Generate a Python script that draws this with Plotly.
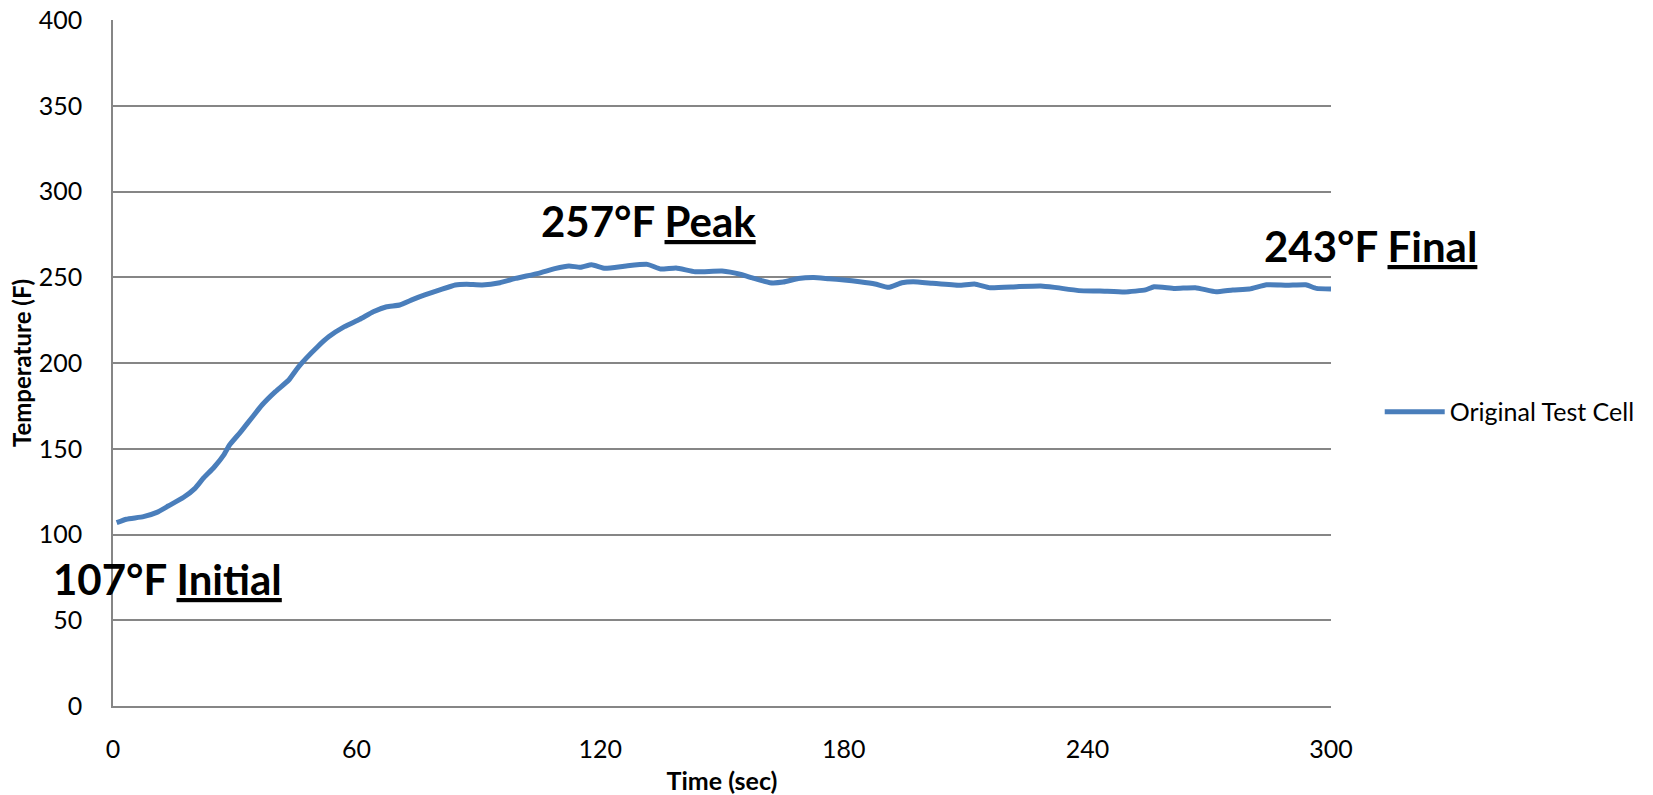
import plotly.graph_objects as go

time_sec = [0.9, 3.3, 7.5, 10.8, 13.6, 17.4, 20.2, 22.1, 24.9, 27.3, 28.7, 31.5, 34.4, 36.7, 40.0, 43.3,
            45.7, 50.4, 53.2, 57.0, 60.8, 64.1, 67.4, 70.6, 73.9, 76.8, 80.5, 84.3, 87.1, 90.9, 95.3,
            99.1, 104.8, 108.8, 112.3, 115.1, 117.9, 121.2, 126.4, 131.6, 134.9, 138.7, 143.4, 150.0,
            154.7, 157.5, 161.8, 165.1, 168.8, 172.6, 176.4, 180.1, 183.9, 187.7, 191.0, 194.3, 197.1,
            201.8, 208.4, 212.2, 216.0, 222.6, 228.5, 231.9, 237.9, 243.1, 249.2, 254.3, 256.4, 261.5,
            266.6, 271.7, 275.8, 279.9, 284.1, 289.2, 293.8, 296.4, 300.0]
temp_f = [106.9, 108.9, 110.4, 112.9, 116.6, 121.7, 126.9, 132.4, 139.2, 146.4, 152.2, 160.0, 168.7, 175.5, 183.3, 190.1,
          197.8, 209.5, 215.4, 221.2, 225.5, 229.9, 232.8, 233.8, 237.1, 239.7, 242.6, 245.5, 245.9, 245.5, 246.8,
          249.3, 252.3, 255.0, 256.6, 255.8, 257.3, 255.2, 256.6, 257.5, 254.8, 255.4, 253.2, 253.6,
          251.6, 249.6, 246.8, 247.2, 249.3, 249.9, 249.1, 248.4, 247.4, 246.1, 244.1, 246.8, 247.4,
          246.5, 245.3, 246.1, 243.9, 244.5, 244.9, 244.1, 242.2, 242.0, 241.4, 242.6, 244.5, 243.5,
          243.9, 241.5, 242.6, 243.1, 245.6, 245.3, 245.6, 243.5, 243.1]

x_ticks = [0, 60, 120, 180, 240, 300]
y_ticks = [0, 50, 100, 150, 200, 250, 300, 350, 400]

# label anchor: x in paper fraction of plot width, y in data units
labels = [
    {"x": 0.4393, "y": 283, "text": "<b>257°F <span style='text-decoration:underline'>Peak</span></b>"},
    {"x": 1.0328, "y": 268, "text": "<b>243°F <span style='text-decoration:underline'>Final</span></b>"},
    {"x": 0.045, "y": 74, "text": "<b>107°F <span style='text-decoration:underline'>Initial</span></b>"},
]

font_family = "Lato, 'Open Sans', sans-serif"
grid_color = "#868686"

fig = go.Figure()
fig.add_trace(go.Scatter(
    x=time_sec, y=temp_f, mode="lines", name="Original Test Cell",
    line=dict(color="#4A7EBB", width=5, shape="spline", smoothing=0.4),
))

for lab in labels:
    fig.add_annotation(x=lab["x"], y=lab["y"], text=lab["text"], showarrow=False,
                       xref="paper", yref="y", xanchor="center", yanchor="middle",
                       font=dict(family=font_family, size=42, color="#000000"))

fig.update_layout(
    width=1653, height=795,
    margin=dict(l=113, r=322, t=20, b=89),
    paper_bgcolor="white", plot_bgcolor="white",
    font=dict(family=font_family, color="#000000"),
    showlegend=True,
    legend=dict(x=1.04, y=0.4286, xanchor="left", yanchor="middle", itemwidth=60,
                font=dict(size=25, family=font_family), bgcolor="rgba(0,0,0,0)"),
    xaxis=dict(range=[0, 300], tickvals=x_ticks, ticktext=[str(v) for v in x_ticks],
               showgrid=False, zeroline=False, showline=True, linecolor=grid_color, linewidth=1.5,
               ticks="", tickfont=dict(size=25), ticklabelstandoff=20, automargin=False,
               title=dict(text="<b>Time (sec)</b>", font=dict(size=25), standoff=12)),
    yaxis=dict(range=[0, 400], tickvals=y_ticks, ticktext=[str(v) for v in y_ticks],
               showgrid=True, gridcolor=grid_color, gridwidth=1.5, zeroline=False,
               showline=True, linecolor=grid_color, linewidth=1.5, automargin=False,
               ticks="", tickfont=dict(size=25), ticklabelstandoff=24,
               title=dict(text="<b>Temperature (F)</b>", font=dict(size=24), standoff=0)),
)

fig.write_html("out.html")
